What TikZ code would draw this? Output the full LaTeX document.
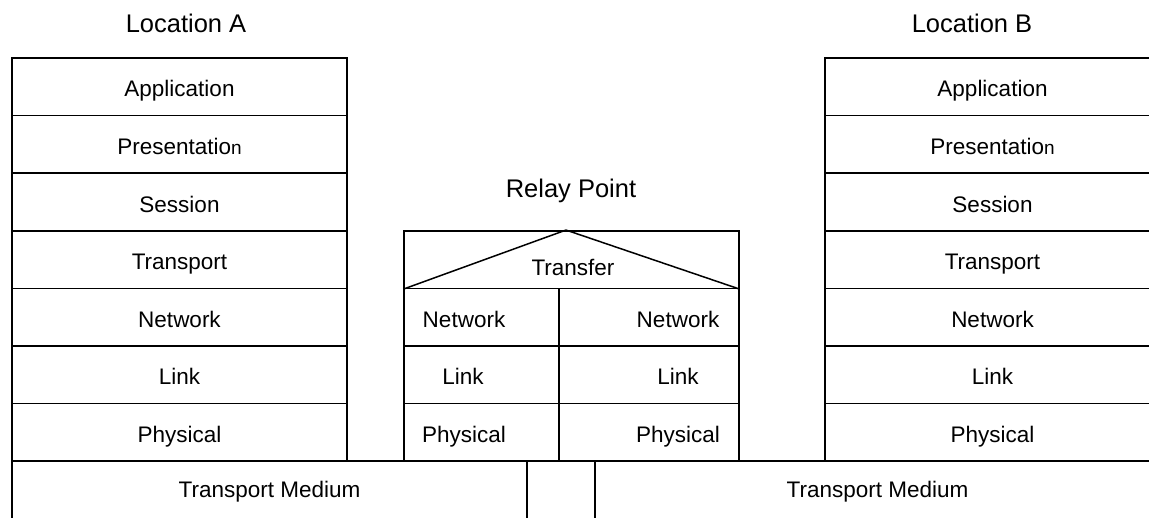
\documentclass[tikz,border=0pt]{standalone}
\usepackage{fontspec}
\setmainfont{Liberation Sans}
\tikzset{
    layer/.style={draw, line width=1.5pt, minimum width=335pt, minimum height=57.6pt, inner sep=0pt,
        text height=20pt, text depth=0pt, font=\fontsize{22.5}{27}\selectfont},
    cell/.style={draw, line width=1.5pt, minimum height=57.6pt, inner sep=0pt},
    word/.style={anchor=base, inner sep=0pt, font=\fontsize{22.5}{27}\selectfont},
    title/.style={anchor=base, inner sep=0pt, font=\fontsize{25.5}{30}\selectfont}
}
\begin{document}
\begin{tikzpicture}[x=1pt, y=-1pt]
            \useasboundingbox (0,0) rectangle (1149,517);
            \clip (0,0) rectangle (1149,517);
            \node[title] (locA) at (186,32) {Location A};
            \node[title] (locB) at (972,32) {Location B};
            \node[title] (relay) at (571,197) {Relay Point};
            \node[layer] (appA) at (179.5,86.8) {Application};
            \node[layer] (preA) at (179.5,144.4) {Presentatio{\fontsize{19}{22}\selectfont n}};
            \node[layer] (sesA) at (179.5,202) {Session};
            \node[layer] (traA) at (179.5,259.6) {Transport};
            \node[layer] (netA) at (179.5,317.2) {Network};
            \node[layer] (linA) at (179.5,374.8) {Link};
            \node[layer] (phyA) at (179.5,432.4) {Physical};
            \node[layer] (appB) at (992.5,86.8) {Application};
            \node[layer] (preB) at (992.5,144.4) {Presentatio{\fontsize{19}{22}\selectfont n}};
            \node[layer] (sesB) at (992.5,202) {Session};
            \node[layer] (traB) at (992.5,259.6) {Transport};
            \node[layer] (netB) at (992.5,317.2) {Network};
            \node[layer] (linB) at (992.5,374.8) {Link};
            \node[layer] (phyB) at (992.5,432.4) {Physical};
            \node[cell, minimum width=335pt] (xfer) at (571.5,259.6) {};
            \coordinate (apex) at ([xshift=-5.5pt]xfer.north);
            \draw[line width=1.5pt] (xfer.south west) -- (apex) -- (xfer.south east);
            \node[word] (xferw) at (573,275) {Transfer};
            \node[cell, minimum width=155pt] (netL) at (481.5,317.2) {};
            \node[cell, minimum width=155pt] (linL) at (481.5,374.8) {};
            \node[cell, minimum width=155pt] (phyL) at (481.5,432.4) {};
            \node[cell, minimum width=180pt] (netR) at (649,317.2) {};
            \node[cell, minimum width=180pt] (linR) at (649,374.8) {};
            \node[cell, minimum width=180pt] (phyR) at (649,432.4) {};
            \node[word] (netLw) at (464,327) {Network};
            \node[word] (linLw) at (463,384.6) {Link};
            \node[word] (phyLw) at (464,442.2) {Physical};
            \node[word] (netRw) at (678,327) {Network};
            \node[word] (linRw) at (678,384.6) {Link};
            \node[word] (phyRw) at (678,442.2) {Physical};
            \node[cell, minimum width=515pt, minimum height=100pt] (medA) at (269.5,511.2) {};
            \node[cell, minimum width=565pt, minimum height=100pt] (medB) at (877.5,511.2) {};
            \node[word] (medAw) at (269.5,497) {Transport Medium};
            \node[word] (medBw) at (877.5,497) {Transport Medium};
        \end{tikzpicture}
\end{document}
